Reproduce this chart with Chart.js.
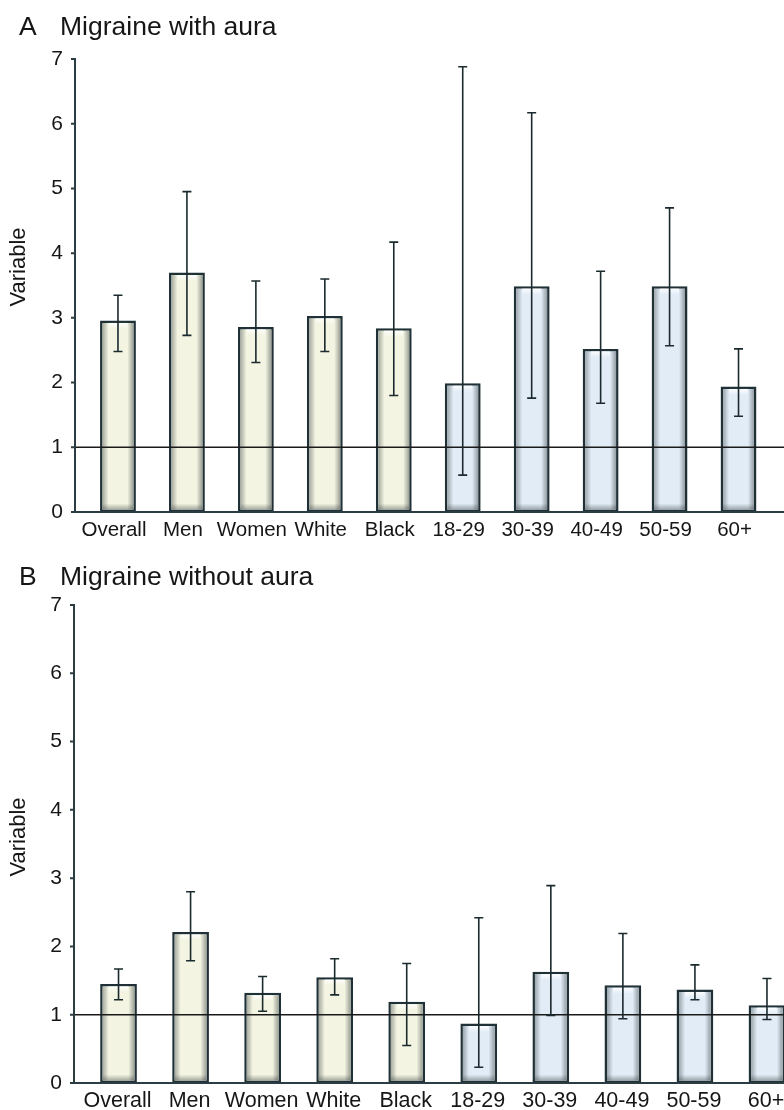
<!DOCTYPE html>
<html>
<head>
<meta charset="utf-8">
<script src="https://cdn.jsdelivr.net/npm/chart.js@4.4.1/dist/chart.umd.min.js"></script>
<style>
  html, body { margin: 0; padding: 0; background: #fff; overflow: hidden; }
  .panel { position: relative; width: 784px; height: 555px; overflow: hidden; }
  canvas { display: block; }
</style>
</head>
<body>
<div class="panel"><canvas id="chartA" width="784" height="555"></canvas></div>
<div class="panel"><canvas id="chartB" width="820" height="600"></canvas></div>
<script>
// Migraine figure - odds by subgroup, panel A (with aura) and B (without aura)
const categories = ['Overall', 'Men', 'Women', 'White', 'Black', '18-29', '30-39', '40-49', '50-59', '60+'];
const yTicks = [0, 1, 2, 3, 4, 5, 6, 7];
const referenceValue = 1;

const panelLetters = ['A', 'B'];
const panelTitles = ['Migraine with aura', 'Migraine without aura'];
const yAxisTitle = 'Variable';

const auraValues = [2.96, 3.70, 2.86, 3.03, 2.84, 1.99, 3.49, 2.52, 3.49, 1.94];
const auraLower  = [2.48, 2.73, 2.31, 2.48, 1.80, 0.57, 1.76, 1.68, 2.57, 1.48];
const auraUpper  = [3.35, 4.95, 3.57, 3.60, 4.17, 6.88, 6.17, 3.72, 4.70, 2.52];

const noAuraValues = [1.45, 2.21, 1.32, 1.55, 1.19, 0.87, 1.63, 1.43, 1.37, 1.14];
const noAuraLower  = [1.22, 1.79, 1.05, 1.29, 0.55, 0.23, 0.99, 0.94, 1.22, 0.93];
const noAuraUpper  = [1.67, 2.80, 1.56, 1.82, 1.75, 2.42, 2.89, 2.19, 1.73, 1.53];

// first five are demographic groups, last five are age groups
const isAgeGroup = [false, false, false, false, false, true, true, true, true, true];

const FONT = "'Liberation Sans', Arial, Helvetica, sans-serif";
const INK = '#161616';
const LINE = '#1f3136';

// draws bevel, reference line, error bars, axes and titles
const extrasPlugin = {
    id: 'extras',
    afterDatasetsDraw(chart, args, opts) {
        const ctx = chart.ctx;
        const area = chart.chartArea;
        const yScale = chart.scales.y;
        const meta = chart.getDatasetMeta(0);
        const axisX = area.left - 8.5;
        ctx.save();

        // soft bevel inside each bar
        meta.data.forEach(bar => {
            const bw = 2.5;
            const l = bar.x - bar.width / 2 + bw, r = bar.x + bar.width / 2 - bw;
            const t = bar.y + bw, b = bar.base - bw;
            const s = 6;
            let g = ctx.createLinearGradient(l, 0, l + s, 0);
            g.addColorStop(0, 'rgba(50,60,60,0.40)');
            g.addColorStop(1, 'rgba(50,60,60,0)');
            ctx.fillStyle = g; ctx.fillRect(l, t, s, b - t);
            g = ctx.createLinearGradient(r, 0, r - s, 0);
            g.addColorStop(0, 'rgba(50,60,60,0.45)');
            g.addColorStop(1, 'rgba(50,60,60,0)');
            ctx.fillStyle = g; ctx.fillRect(r - s, t, s, b - t);
            g = ctx.createLinearGradient(0, b, 0, b - s);
            g.addColorStop(0, 'rgba(50,60,60,0.40)');
            g.addColorStop(1, 'rgba(50,60,60,0)');
            ctx.fillStyle = g; ctx.fillRect(l, b - s, r - l, s);
            g = ctx.createLinearGradient(0, t, 0, t + s);
            g.addColorStop(0, 'rgba(255,255,255,0.9)');
            g.addColorStop(1, 'rgba(255,255,255,0)');
            ctx.fillStyle = g; ctx.fillRect(l + s, t, r - l - 2 * s, s);
        });

        // reference line at 1
        const yRef = yScale.getPixelForValue(referenceValue);
        ctx.strokeStyle = '#1a1a1a';
        ctx.lineWidth = 1.5;
        ctx.beginPath();
        ctx.moveTo(axisX, yRef);
        ctx.lineTo(chart.width, yRef);
        ctx.stroke();

        // error bars
        ctx.strokeStyle = '#1b2a2e';
        ctx.lineWidth = 1.6;
        meta.data.forEach((bar, i) => {
            const yHi = yScale.getPixelForValue(opts.upper[i]);
            const yLo = yScale.getPixelForValue(opts.lower[i]);
            const cap = 4.5;
            ctx.beginPath();
            ctx.moveTo(bar.x, yHi); ctx.lineTo(bar.x, yLo);
            ctx.moveTo(bar.x - cap, yHi); ctx.lineTo(bar.x + cap, yHi);
            ctx.moveTo(bar.x - cap, yLo); ctx.lineTo(bar.x + cap, yLo);
            ctx.stroke();
        });

        // axes
        const yTop = yScale.getPixelForValue(yTicks[yTicks.length - 1]);
        const yBot = yScale.getPixelForValue(0);
        ctx.strokeStyle = '#2b3d43';
        ctx.lineWidth = 2;
        ctx.beginPath();
        ctx.moveTo(axisX, yTop - 1); ctx.lineTo(axisX, yBot);
        ctx.lineTo(chart.width, yBot);
        yTicks.forEach(v => {
            const py = yScale.getPixelForValue(v);
            ctx.moveTo(axisX - 4, py); ctx.lineTo(axisX, py);
        });
        ctx.stroke();

        // panel title
        ctx.fillStyle = INK;
        ctx.font = '26.5px ' + FONT;
        ctx.textBaseline = 'alphabetic';
        ctx.textAlign = 'left';
        ctx.fillText(opts.letter, 19, opts.titleBase);
        ctx.fillText(opts.title, 60, opts.titleBase);

        // y axis title
        ctx.font = '22px ' + FONT;
        ctx.textAlign = 'center';
        ctx.textBaseline = 'middle';
        ctx.translate(19, opts.yTitleY);
        ctx.rotate(-Math.PI / 2);
        ctx.fillText(yAxisTitle, 0, 0);
        ctx.restore();
    }
};

function makeChart(id, values, lower, upper, idx, layout) {
    const canvas = document.getElementById(id);
    return new Chart(canvas, {
        type: 'bar',
        data: {
            labels: categories,
            datasets: [{
                data: values,
                backgroundColor: isAgeGroup.map(a => a ? '#e2ecf7' : '#f3f4e1'),
                borderColor: LINE,
                borderWidth: 2.5,
                borderSkipped: false,
                barPercentage: layout.barPct,
                categoryPercentage: 1.0
            }]
        },
        options: {
            responsive: false,
            animation: false,
            devicePixelRatio: 1,
            layout: { padding: { left: 6, right: layout.padRight, top: layout.top, bottom: 0 } },
            plugins: {
                legend: { display: false },
                tooltip: { enabled: false },
                extras: {
                    upper: upper, lower: lower,
                    letter: panelLetters[idx], title: panelTitles[idx],
                    titleBase: layout.titleBase, yTitleY: layout.yTitleY
                }
            },
            scales: {
                x: {
                    grid: { display: false, drawTicks: false },
                    border: { display: false },
                    ticks: {
                        color: INK,
                        font: { family: FONT, size: layout.catFont },
                        padding: layout.catPad,
                        labelOffset: layout.catShift,
                        maxRotation: 0,
                        autoSkip: false
                    },
                    afterFit: s => { s.height = canvas.height - layout.bottom; }
                },
                y: {
                    min: 0,
                    max: 7,
                    grid: { display: false, drawTicks: false },
                    border: { display: false },
                    ticks: {
                        stepSize: 1,
                        color: INK,
                        font: { family: FONT, size: 21 },
                        padding: 20.5
                    },
                    afterFit: s => { s.width = layout.left - 6; }
                }
            }
        },
        plugins: [extrasPlugin]
    });
}

makeChart('chartA', auraValues, auraLower, auraUpper, 0,
    { left: 83.5, top: 59, bottom: 512, padRight: 11, barPct: 0.52, catFont: 20.5, catPad: 6, catShift: -4,
      titleBase: 35, yTitleY: 267 });
makeChart('chartB', noAuraValues, noAuraLower, noAuraUpper, 1,
    { left: 82.5, top: 50, bottom: 528, padRight: 17, barPct: 0.51, catFont: 21.5, catPad: 5, catShift: -1,
      titleBase: 30, yTitleY: 282 });
</script>
</body>
</html>
